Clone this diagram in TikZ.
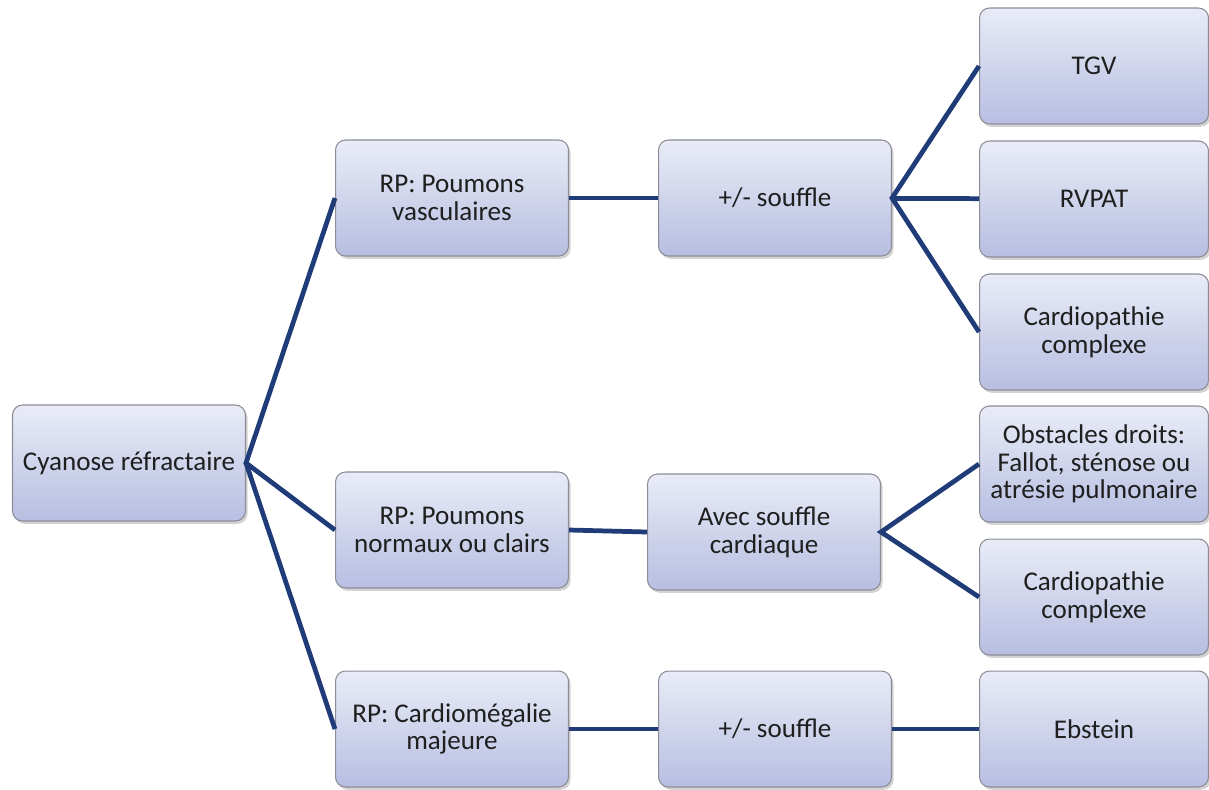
\documentclass[tikz,border=0pt]{standalone}
\usepackage{fontspec}
\setmainfont{Carlito}
\usetikzlibrary{shadows}
\definecolor{boxtop}{HTML}{E9ECF7}
\definecolor{boxbot}{HTML}{B7BEE1}
\definecolor{boxline}{HTML}{8C8C98}
\definecolor{link}{HTML}{1F3C78}
\tikzset{
  boite/.style={draw=boxline, line width=0.6pt, rounded corners=0.2cm,
    top color=boxtop, bottom color=boxbot, text=black!88,
    minimum width=4.66cm, minimum height=2.32cm, align=center,
    font=\fontsize{15.4}{15.8}\selectfont,
    drop shadow={opacity=0.35, shadow xshift=1.2pt, shadow yshift=-1.6pt}},
  lien/.style={draw=link, line width=2.7pt}
}
\begin{document}
\begin{tikzpicture}[x=0.02cm, y=-0.02cm]
\useasboundingbox (0,0) rectangle (1209,789);
% racine
\node[boite] (cyan) at (129,463) {Cyanose réfractaire};
% RP
\node[boite] (vasc) at (452,198) {RP: Poumons\\vasculaires};
\node[boite] (norm) at (452,530) {RP: Poumons\\normaux ou clairs};
\node[boite] (cmeg) at (452,729) {RP: Cardiomégalie\\majeure};
% souffle
\node[boite] (souf1) at (775,198) {+/- souffle};
\node[boite] (avec) at (764,532) {Avec souffle\\cardiaque};
\node[boite] (souf2) at (775,729) {+/- souffle};
% diagnostics
\node[boite, minimum width=4.58cm] (tgv) at (1094,66) {TGV};
\node[boite, minimum width=4.58cm] (rvpat) at (1094,199) {RVPAT};
\node[boite, minimum width=4.58cm] (cpc1) at (1094,332) {Cardiopathie\\complexe};
\node[boite, minimum width=4.58cm] (obst) at (1094,464) {Obstacles droits:\\Fallot, sténose ou\\atrésie pulmonaire};
\node[boite, minimum width=4.58cm] (cpc2) at (1094,597) {Cardiopathie\\complexe};
\node[boite, minimum width=4.58cm] (ebst) at (1094,729) {Ebstein};
% liens
\draw[lien] (vasc.west) -- (cyan.east) -- (norm.west);
\draw[lien] (cyan.east) -- (cmeg.west);
\draw[lien] (vasc) -- (souf1);
\draw[lien] (norm.east) -- (avec.west);
\draw[lien] (cmeg) -- (souf2);
\draw[lien] (tgv.west) -- (souf1.east) -- (cpc1.west);
\draw[lien] (souf1) -- (rvpat);
\draw[lien] (obst.west) -- (avec.east) -- (cpc2.west);
\draw[lien] (souf2) -- (ebst);
\end{tikzpicture}
\end{document}
